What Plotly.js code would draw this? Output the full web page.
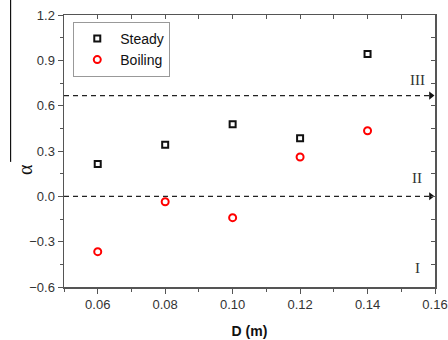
<!DOCTYPE html>
<html>
<head>
<meta charset="utf-8">
<script src="https://cdn.plot.ly/plotly-3.0.1.min.js"></script>
<style>html,body{margin:0;padding:0;background:#fff;}#chart{width:448px;height:340px;}</style>
</head>
<body>
<div id="chart"></div>
<script>
const D = [0.06, 0.08, 0.10, 0.12, 0.14];
const steady = [0.214, 0.342, 0.477, 0.384, 0.942];
const boiling = [-0.366, -0.036, -0.141, 0.260, 0.434];
const thresholds = [2/3, 0];
const regionLabels = ['III', 'II', 'I'];
const regionY = [0.77, 0.12, -0.475];
const xTicks = [0.06, 0.08, 0.10, 0.12, 0.14, 0.16];
const yTicks = [-0.6, -0.3, 0.0, 0.3, 0.6, 0.9, 1.2];

const axisColor = '#555';
const tickFont = {family: 'Liberation Sans, Arial, sans-serif', size: 13, color: '#333'};

const traces = [
  {x: D, y: steady, type: 'scatter', mode: 'markers', name: 'Steady',
   marker: {symbol: 'square-open', size: 6, color: '#111', line: {width: 2, color: '#111'}}},
  {x: D, y: boiling, type: 'scatter', mode: 'markers', name: 'Boiling',
   marker: {symbol: 'circle-open', size: 7, color: '#f00', line: {width: 2, color: '#f00'}}},
  {x: thresholds.map(() => 0.1588), y: thresholds, type: 'scatter', mode: 'markers', showlegend: false,
   marker: {symbol: 'triangle-right', size: 7, color: '#111'}, hoverinfo: 'skip'},
  {x: D, y: steady, xaxis: 'x2', yaxis: 'y2', type: 'scatter', mode: 'markers', showlegend: false,
   marker: {opacity: 0}, hoverinfo: 'skip'}
];

const layout = {
  width: 448, height: 340,
  margin: {l: 64, r: 13, t: 15, b: 53},
  paper_bgcolor: '#fff', plot_bgcolor: '#fff',
  showlegend: true,
  legend: {x: 0.025, y: 0.975, xanchor: 'left', yanchor: 'top',
           bordercolor: '#999', borderwidth: 1, bgcolor: '#fff',
           font: {family: 'Liberation Sans, Arial, sans-serif', size: 14, color: '#111'},
           tracegroupgap: 0, itemwidth: 36},
  xaxis: {range: [0.05, 0.16], tickvals: xTicks, tickformat: '.2f', ticks: 'outside', ticklen: 5,
          tickcolor: axisColor, showline: true, linecolor: axisColor, linewidth: 1.5,
          showgrid: false, zeroline: false, tickfont: tickFont,
          minor: {dtick: 0.01, tick0: 0.05, ticks: 'outside', ticklen: 3, tickcolor: axisColor, showgrid: false},
          title: {text: '<b>D (m)</b>', font: {family: 'Liberation Sans, Arial, sans-serif', size: 14, color: '#111'}, standoff: 15}},
  yaxis: {range: [-0.6, 1.2], tickvals: yTicks, tickformat: '.1f', ticks: 'outside', ticklen: 5,
          tickcolor: axisColor, showline: true, linecolor: axisColor, linewidth: 1.5,
          showgrid: false, zeroline: false, tickfont: tickFont,
          minor: {dtick: 0.15, tick0: -0.6, ticks: 'outside', ticklen: 3, tickcolor: axisColor, showgrid: false}},
  xaxis2: {overlaying: 'x', side: 'top', anchor: 'y', range: [0.05, 0.16], dtick: 0.01, tick0: 0.05,
           ticks: 'inside', ticklen: 4, tickcolor: axisColor, showline: true, linecolor: axisColor, linewidth: 1.5,
           showticklabels: false, showgrid: false, zeroline: false},
  yaxis2: {overlaying: 'y', side: 'right', anchor: 'x', range: [-0.6, 1.2], dtick: 0.15, tick0: -0.6,
           ticks: 'inside', ticklen: 4, tickcolor: axisColor, showline: true, linecolor: axisColor, linewidth: 1.5,
           showticklabels: false, showgrid: false, zeroline: false},
  shapes: thresholds.map(t => ({type: 'line', xref: 'paper', yref: 'y', x0: 0, x1: 0.985, y0: t, y1: t,
                                line: {color: '#222', width: 1.3, dash: '5px,4px'}}))
          .concat([{type: 'line', xref: 'paper', yref: 'paper', x0: -0.144, x1: -0.144, y0: 0.46, y1: 1.06,
                    line: {color: '#111', width: 1.2}}]),
  annotations: regionLabels.map((t, i) => ({x: 0.1547, y: regionY[i], xref: 'x', yref: 'y', text: t, showarrow: false,
                                             font: {family: 'Liberation Serif, Times New Roman, serif', size: 15, color: '#333'}}))
    .concat([{x: -0.140, y: 0.43, xref: 'paper', yref: 'paper', text: 'α', textangle: -90, showarrow: false,
              font: {family: 'Liberation Serif, Times New Roman, serif', size: 20, color: '#111'}}])
};

Plotly.newPlot('chart', traces, layout, {displayModeBar: false, staticPlot: true});
</script>
</body>
</html>
